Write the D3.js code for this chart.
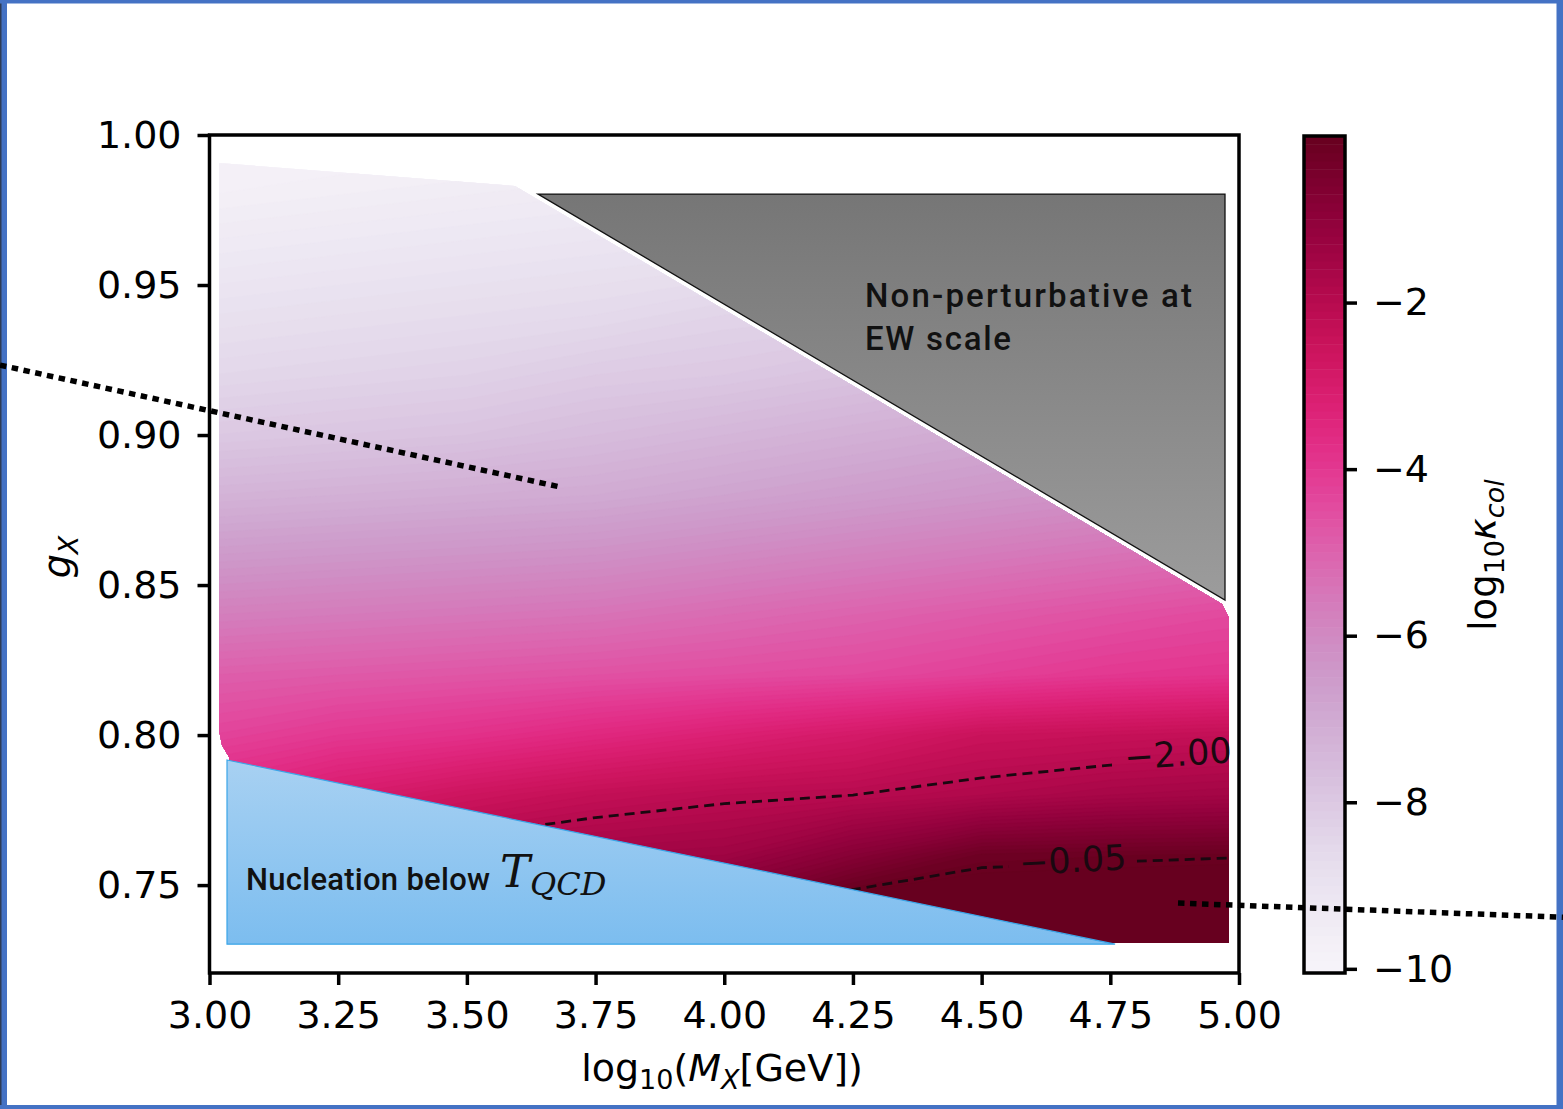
<!DOCTYPE html>
<html>
<head>
  <meta charset="UTF-8">
  <title>kappa col</title>
  <style>
  body, html{
    padding: 0;
    margin: 0;
    background: #fff;
  }
  svg{ display: block; }
  text{ font-family: "DejaVu Sans", sans-serif; fill: #000; }
  </style>
</head>
<body>
  <script src="https://cdn.jsdelivr.net/npm/d3@7"></script>
  <script type="text/javascript">
  var width = 1563, height = 1109;

  // grid of log10(M_X) values (columns) and g_X values (rows)
  var massGrid = [3.00, 3.25, 3.50, 3.75, 4.00, 4.25, 4.50, 4.75, 5.00];
  var couplingGrid = [0.72, 0.74, 0.76, 0.78, 0.80, 0.82, 0.84, 0.86, 0.88, 0.90, 0.92, 0.94, 0.96, 0.98, 1.00];
  // log10 kappa_col, one row per coupling (bottom to top)
  var logKappa = [
    [-0.5, -0.2,  0.0,  0.2,  0.3,  0.5,  0.5,   0.5,   0.5],
    [-1.5, -1.1, -0.8, -0.5, -0.3,  0.5,  0.4,   0.4,   0.4],
    [-2.5, -2.0, -1.7, -1.5, -1.4, -0.8, -0.17, -0.11, -0.07],
    [-3.5, -3.0, -2.6, -2.3, -2.1, -2.0, -1.8,  -1.6,  -1.5],
    [-4.3, -4.0, -3.8, -3.5, -3.2, -2.9, -2.5,  -2.4,  -2.3],
    [-4.9, -4.8, -4.7, -4.6, -4.5, -4.4, -4.2,  -4.0,  -3.9],
    [-5.7, -5.6, -5.5, -5.4, -5.2, -5.0, -4.8,  -4.6,  -4.4],
    [-6.5, -6.4, -6.3, -6.2, -6.0, -5.8, -5.6,  -5.4,  -5.2],
    [-7.3, -7.2, -7.1, -7.0, -6.8, -6.6, -6.4,  -6.2,  -6.0],
    [-8.0, -7.9, -7.8, -7.6, -7.4, -7.2, -7.0,  -6.8,  -6.6],
    [-8.5, -8.4, -8.3, -8.1, -8.0, -7.8, -7.6,  -7.4,  -7.2],
    [-8.9, -8.8, -8.7, -8.6, -8.4, -8.3, -8.1,  -8.0,  -7.8],
    [-9.3, -9.2, -9.1, -9.0, -8.9, -8.8, -8.6,  -8.5,  -8.4],
    [-9.7, -9.6, -9.5, -9.4, -9.3, -9.2, -9.1,  -9.0,  -8.9],
    [-9.9, -9.9, -9.9, -9.8, -9.7, -9.6, -9.5,  -9.4,  -9.3]
  ];

  var xTicks = [3.00, 3.25, 3.50, 3.75, 4.00, 4.25, 4.50, 4.75, 5.00];
  var yTicks = [0.75, 0.80, 0.85, 0.90, 0.95, 1.00];
  var cbTicks = [-2, -4, -6, -8, -10];
  var contourLevels = [-2.00, -0.05];
  var contourLabels = [
    {level: -2.00, x: 4.8815, g: 0.7937, angle: -4},
    {level: -0.05, x: 4.677, g: 0.7583, angle: -3}
  ];

  // region where the scan has points
  var dataRegion = [[3.0185, 0.9907], [3.5935, 0.9830], [4.967, 0.8437], [4.9806, 0.839],
                    [4.9806, 0.7307], [3.0379, 0.7307], [3.0379, 0.7927], [3.0243, 0.7967], [3.0185, 0.8017]];
  // shaded regions
  var nonPertRegion = [[3.6382, 0.9803], [4.9728, 0.9803], [4.9728, 0.845]];
  var nucleationRegion = [[3.034, 0.7917], [4.7593, 0.7303], [3.034, 0.7303]];
  var dottedLines = [
    [[2.593, 0.9233], [3.681, 0.8827]],
    [[4.8815, 0.7440], [5.6294, 0.7393]]
  ];

  //画布
  var svg = d3.select('body')
    .append('svg')
    .attr('width', width)
    .attr('height', height);

  svg.append('rect').attr('width', width).attr('height', height).attr('fill', '#fff');

  var x = d3.scaleLinear().domain([3, 5]).range([209.5, 1239]);
  var y = d3.scaleLinear().domain([0.7207, 1]).range([973, 135]);
  var cb = d3.scaleLinear().domain([-10.05, 0]).range([973, 136]);
  var color = d3.scaleSequential(d3.interpolatePuRd).domain([-10, 0]).clamp(true);

  var defs = svg.append('defs');
  var lineXY = d3.line().x(function(d){ return x(d[0]); }).y(function(d){ return y(d[1]); });

  defs.append('clipPath').attr('id', 'region')
    .append('path').attr('d', lineXY(dataRegion) + 'Z');

  var gGray = defs.append('linearGradient').attr('id', 'grayGrad')
    .attr('gradientUnits', 'userSpaceOnUse')
    .attr('x1', 0).attr('x2', 0).attr('y1', y(nonPertRegion[0][1])).attr('y2', y(nonPertRegion[2][1]));
  gGray.append('stop').attr('offset', 0).attr('stop-color', '#767676');
  gGray.append('stop').attr('offset', 1).attr('stop-color', '#9c9c9c');

  var gBlue = defs.append('linearGradient').attr('id', 'blueGrad')
    .attr('gradientUnits', 'userSpaceOnUse')
    .attr('x1', 0).attr('x2', 0).attr('y1', y(nucleationRegion[0][1])).attr('y2', y(nucleationRegion[2][1]));
  gBlue.append('stop').attr('offset', 0).attr('stop-color', '#a8d1f2');
  gBlue.append('stop').attr('offset', 1).attr('stop-color', '#7cbdef');

  //填充等值线
  var nx = massGrid.length, ny = couplingGrid.length;
  var flat = [];
  logKappa.forEach(function(row){ row.forEach(function(v){ flat.push(v); }); });
  var dm = massGrid[1] - massGrid[0], dg = couplingGrid[1] - couplingGrid[0];
  var gridProj = d3.geoTransform({
    point: function(px, py){
      this.stream.point(x(massGrid[0] + (px - 0.5) * dm), y(couplingGrid[0] + (py - 0.5) * dg));
    }
  });
  var gridPath = d3.geoPath(gridProj);

  var levels = d3.range(0, 101).map(function(k){ return -10 + k * 0.1; });
  var bands = d3.contours().size([nx, ny]).thresholds(levels)(flat);

  var heat = svg.append('g').attr('clip-path', 'url(#region)');
  heat.selectAll('path')
    .data(bands)
    .enter()
    .append('path')
    .attr('d', gridPath)
    .attr('fill', function(d){ return color(d.value + 0.05); })
    .attr('stroke', function(d){ return color(d.value + 0.05); })
    .attr('stroke-width', 0.6);

  // contour lines with gaps for labels
  var mask = defs.append('mask').attr('id', 'labelGap')
    .attr('maskUnits', 'userSpaceOnUse')
    .attr('x', 0).attr('y', 0).attr('width', width).attr('height', height);
  mask.append('rect').attr('width', width).attr('height', height).attr('fill', '#fff');
  mask.selectAll('rect.gap')
    .data(contourLabels)
    .enter()
    .append('rect')
    .attr('class', 'gap')
    .attr('x', -64).attr('y', -20).attr('width', 128).attr('height', 40)
    .attr('fill', '#000')
    .attr('transform', function(d){ return 'translate(' + x(d.x) + ',' + y(d.g) + ') rotate(' + d.angle + ')'; });

  var lines = d3.contours().size([nx, ny]).thresholds(contourLevels)(flat);
  heat.append('g').attr('mask', 'url(#labelGap)')
    .selectAll('path')
    .data(lines)
    .enter()
    .append('path')
    .attr('d', gridPath)
    .attr('fill', 'none')
    .attr('stroke', '#1a0810')
    .attr('stroke-width', 2.8)
    .attr('stroke-dasharray', '10,6');

  svg.selectAll('text.clabel')
    .data(contourLabels)
    .enter()
    .append('text')
    .attr('class', 'clabel')
    .attr('text-anchor', 'middle')
    .attr('dominant-baseline', 'central')
    .attr('transform', function(d){ return 'translate(' + x(d.x) + ',' + y(d.g) + ') rotate(' + d.angle + ')'; })
    .style('font-size', '35px')
    .style('fill', '#1a0810')
    .text(function(d){ return d3.format('.2f')(d.level).replace('-', '\u2212'); });

  // shaded regions
  svg.append('path')
    .attr('d', lineXY(nonPertRegion) + 'Z')
    .attr('fill', 'url(#grayGrad)')
    .attr('stroke', '#111')
    .attr('stroke-width', 1.3);

  svg.append('path')
    .attr('d', lineXY(nucleationRegion) + 'Z')
    .attr('fill', 'url(#blueGrad)')
    .attr('stroke', '#3aa5e8')
    .attr('stroke-width', 1.2);

  svg.append('text')
    .attr('x', 865).attr('y', 307)
    .attr('textLength', 327).attr('lengthAdjust', 'spacing')
    .style('font-family', 'Roboto, sans-serif').style('font-weight', 500)
    .style('font-size', '33px').style('fill', '#111')
    .text('Non-perturbative at');
  svg.append('text')
    .attr('x', 865).attr('y', 350)
    .attr('textLength', 146).attr('lengthAdjust', 'spacing')
    .style('font-family', 'Roboto, sans-serif').style('font-weight', 500)
    .style('font-size', '33px').style('fill', '#111')
    .text('EW scale');

  var nuc = svg.append('text')
    .attr('x', 246).attr('y', 890)
    .style('font-family', 'Roboto, sans-serif').style('font-weight', 500)
    .style('font-size', '31px').style('fill', '#111');
  nuc.append('tspan').attr('textLength', 244).attr('lengthAdjust', 'spacing').text('Nucleation below');
  nuc.append('tspan').attr('x', 500).attr('y', 887)
    .style('font-family', '"DejaVu Serif", serif').style('font-style', 'italic').style('font-weight', 400)
    .style('font-size', '45px').text('T');
  nuc.append('tspan').attr('dy', 8)
    .style('font-family', '"DejaVu Serif", serif').style('font-style', 'italic').style('font-weight', 400)
    .style('font-size', '32px').text('QCD');

  //坐标轴
  var axisX = d3.axisBottom(x).tickValues(xTicks).tickSize(12).tickPadding(16).tickFormat(d3.format('.2f'));
  var axisY = d3.axisLeft(y).tickValues(yTicks).tickSize(12).tickPadding(16).tickFormat(d3.format('.2f'));

  var gx = svg.append('g').attr('transform', 'translate(0,973)').call(axisX);
  var gy = svg.append('g').attr('transform', 'translate(209.5,0)').call(axisY);
  [gx, gy].forEach(function(g){
    g.select('.domain').remove();
    g.selectAll('.tick line').attr('stroke', '#000').attr('stroke-width', 3.5);
    g.selectAll('.tick text').style('font-size', '38px').style('font-family', '"DejaVu Sans", sans-serif');
  });

  svg.append('rect')
    .attr('x', 209.5).attr('y', 135)
    .attr('width', 1239 - 209.5).attr('height', 973 - 135)
    .attr('fill', 'none').attr('stroke', '#000').attr('stroke-width', 3.5);

  var xl = svg.append('text').attr('x', 722).attr('y', 1081).attr('text-anchor', 'middle').style('font-size', '38px');
  xl.append('tspan').text('log');
  xl.append('tspan').attr('dy', 8).style('font-size', '27px').text('10');
  xl.append('tspan').attr('dy', -8).text('(');
  xl.append('tspan').style('font-style', 'italic').text('M');
  xl.append('tspan').attr('dy', 8).style('font-size', '27px').style('font-style', 'italic').text('X');
  xl.append('tspan').attr('dy', -8).text('[GeV])');

  var yl = svg.append('text').attr('transform', 'translate(70,557) rotate(-90)').attr('text-anchor', 'middle').style('font-size', '38px');
  yl.append('tspan').style('font-style', 'italic').text('g');
  yl.append('tspan').attr('dy', 8).style('font-size', '27px').style('font-style', 'italic').text('X');

  //色标
  var cbar = svg.append('g');
  var cbLevels = [-10.05].concat(levels);
  cbar.selectAll('rect')
    .data(d3.range(cbLevels.length - 1))
    .enter()
    .append('rect')
    .attr('x', 1304)
    .attr('width', 41)
    .attr('y', function(i){ return cb(cbLevels[i + 1]); })
    .attr('height', function(i){ return cb(cbLevels[i]) - cb(cbLevels[i + 1]) + 0.5; })
    .attr('fill', function(i){ return color(Math.max(-10, cbLevels[i]) + 0.05); });
  cbar.append('rect')
    .attr('x', 1304).attr('y', 136).attr('width', 41).attr('height', 973 - 136)
    .attr('fill', 'none').attr('stroke', '#000').attr('stroke-width', 3.5);

  var axisC = d3.axisRight(cb).tickValues(cbTicks).tickSize(12).tickPadding(16)
    .tickFormat(function(d){ return String(d).replace('-', '\u2212'); });
  var gc = svg.append('g').attr('transform', 'translate(1345,0)').call(axisC);
  gc.select('.domain').remove();
  gc.selectAll('.tick line').attr('stroke', '#000').attr('stroke-width', 3.5);
  gc.selectAll('.tick text').style('font-size', '38px');

  var cl = svg.append('text').attr('transform', 'translate(1496,555) rotate(-90)').attr('text-anchor', 'middle').style('font-size', '37px');
  cl.append('tspan').text('log');
  cl.append('tspan').attr('dy', 8).style('font-size', '27px').text('10');
  cl.append('tspan').attr('dy', -8).style('font-style', 'italic').text('\u03ba');
  cl.append('tspan').attr('dy', 8).style('font-size', '27px').style('font-style', 'italic').text('col');

  // frame
  svg.append('rect').attr('x', 0).attr('y', 0).attr('width', 7).attr('height', height).attr('fill', '#4472c4');
  svg.append('rect').attr('x', 0).attr('y', 0).attr('width', 1.5).attr('height', height).attr('fill', '#2d3b55');
  svg.append('rect').attr('x', 0).attr('y', 0).attr('width', width).attr('height', 3.5).attr('fill', '#4472c4');
  svg.append('rect').attr('x', 1556.5).attr('y', 0).attr('width', 7).attr('height', height).attr('fill', '#4472c4');
  svg.append('rect').attr('x', 0).attr('y', 1105).attr('width', width).attr('height', 4).attr('fill', '#4472c4');

  // dotted guide lines
  svg.selectAll('path.dots')
    .data(dottedLines)
    .enter()
    .append('path')
    .attr('class', 'dots')
    .attr('d', lineXY)
    .attr('fill', 'none')
    .attr('stroke', '#000')
    .attr('stroke-width', 5.5)
    .attr('stroke-dasharray', '6.5,5.5');
  </script>
</body>
</html>
